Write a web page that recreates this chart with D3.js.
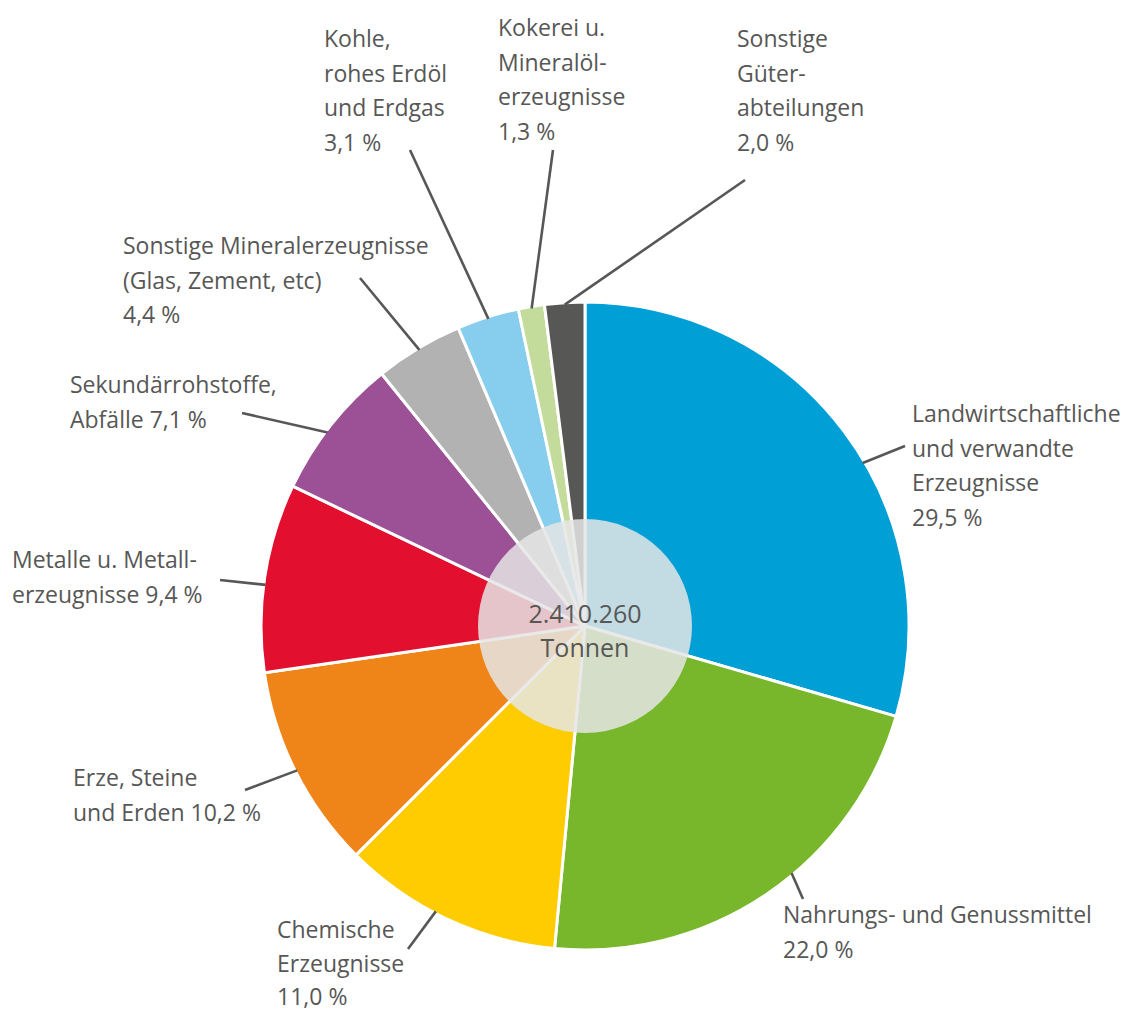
<!DOCTYPE html>
<html lang="de">
<head>
  <meta charset="UTF-8">
  <title>Güterabteilungen</title>
  <script src="https://cdn.jsdelivr.net/npm/d3@7"></script>
  <style>
    body { margin: 0; background: #fff; }
    .lbl { font-family: "Open Sans", sans-serif; font-size: 23px; fill: #575756; }
    .leader { stroke: #575756; stroke-width: 2.6px; fill: none; }
    .centerText { font-family: "Open Sans", sans-serif; font-size: 25px; fill: #575756; }
  </style>
</head>
<body>
<div id="chart"></div>
<script>
// Daten
var categories = ['Landwirtschaftliche und verwandte Erzeugnisse', 'Nahrungs- und Genussmittel',
  'Chemische Erzeugnisse', 'Erze, Steine und Erden', 'Metalle u. Metallerzeugnisse',
  'Sekundärrohstoffe, Abfälle', 'Sonstige Mineralerzeugnisse (Glas, Zement, etc)',
  'Kohle, rohes Erdöl und Erdgas', 'Kokerei u. Mineralölerzeugnisse', 'Sonstige Güterabteilungen'];
var shares = [29.5, 22.0, 11.0, 10.2, 9.4, 7.1, 4.4, 3.1, 1.3, 2.0];
var labelLines = [
  ['Landwirtschaftliche', 'und verwandte', 'Erzeugnisse', ''],
  ['Nahrungs- und Genussmittel', ''],
  ['Chemische', 'Erzeugnisse', ''],
  ['Erze, Steine', 'und Erden'],
  ['Metalle u. Metall-', 'erzeugnisse'],
  ['Sekundärrohstoffe,', 'Abfälle'],
  ['Sonstige Mineralerzeugnisse', '(Glas, Zement, etc)', ''],
  ['Kohle,', 'rohes Erdöl', 'und Erdgas', ''],
  ['Kokerei u.', 'Mineralöl-', 'erzeugnisse', ''],
  ['Sonstige', 'Güter-', 'abteilungen', '']
];
var colors = ['#009fd6', '#78b72b', '#fecc00', '#ef8419', '#e30f2f', '#9c5096',
  '#b2b2b2', '#86cdee', '#c4dc9b', '#575756'];
var totalText = ['2.410.260', 'Tonnen'];

// Layout der Beschriftungen (Textposition, Zeilenabstand, Linienende, Winkel-Korrektur in Grad)
var labelLayout = [
  { x: 912, y: 422, lh: 34.5, ex: 905, ey: 446, da: 6.5 },
  { x: 783, y: 923, lh: 34.5, ex: 803, ey: 899, da: -5.7 },
  { x: 277, y: 938, lh: 33.5, ex: 408, ey: 949, da: 2.4 },
  { x: 73,  y: 786, lh: 34.5, ex: 245, ey: 790, da: 0 },
  { x: 12,  y: 568, lh: 34.5, ex: 220, ey: 580, da: -1.3 },
  { x: 70,  y: 393, lh: 34.5, ex: 242, ey: 413, da: -1.4 },
  { x: 123, y: 254, lh: 34.5, ex: 360, ey: 278, da: 0 },
  { x: 324, y: 47,  lh: 34.5, ex: 410, ey: 150, da: 0 },
  { x: 498, y: 36,  lh: 34.5, ex: 553, ey: 150, da: 0 },
  { x: 737, y: 47,  lh: 34.5, ex: 745, ey: 180, da: 0 }
];

var width = 1133, height = 1012;
var cx = 585, cy = 626, radius = 324, innerR = 107;

var fmt = function(v) { return d3.format('.1f')(v).replace('.', ',') + ' %'; };

var svg = d3.select('#chart')
  .append('svg')
  .attr('width', width)
  .attr('height', height);

var g = svg.append('g')
  .attr('transform', 'translate(' + cx + ',' + cy + ')');

var pie = d3.pie().sort(null).value(function(d) { return d; });
var arcs = pie(shares);

var arc = d3.arc().innerRadius(0).outerRadius(radius);

g.selectAll('.slice')
  .data(arcs)
  .enter()
  .append('path')
  .attr('class', 'slice')
  .attr('d', arc)
  .attr('fill', function(d, i) { return colors[i]; })
  .attr('stroke', '#fff')
  .attr('stroke-width', 3)
  .attr('stroke-linejoin', 'round');

// heller Kreis in der Mitte
g.append('circle')
  .attr('r', innerR)
  .attr('fill', '#e5e5e5')
  .attr('fill-opacity', 0.85);

g.selectAll('.centerText')
  .data(totalText)
  .enter()
  .append('text')
  .attr('class', 'centerText')
  .attr('text-anchor', 'middle')
  .attr('x', 0)
  .attr('y', function(d, i) { return -3 + i * 34; })
  .text(function(d) { return d; });

// Linien
svg.selectAll('.leader')
  .data(arcs)
  .enter()
  .append('line')
  .attr('class', 'leader')
  .attr('x1', function(d, i) {
    var a = (d.startAngle + d.endAngle) / 2 + labelLayout[i].da * Math.PI / 180;
    return cx + (radius - 2) * Math.sin(a);
  })
  .attr('y1', function(d, i) {
    var a = (d.startAngle + d.endAngle) / 2 + labelLayout[i].da * Math.PI / 180;
    return cy - (radius - 2) * Math.cos(a);
  })
  .attr('x2', function(d, i) { return labelLayout[i].ex; })
  .attr('y2', function(d, i) { return labelLayout[i].ey; });

// Beschriftungen
var labels = svg.selectAll('.lbl')
  .data(arcs)
  .enter()
  .append('text')
  .attr('class', 'lbl')
  .attr('x', function(d, i) { return labelLayout[i].x; })
  .attr('y', function(d, i) { return labelLayout[i].y; });

labels.each(function(d, i) {
  var lines = labelLines[i].slice();
  var last = lines.length - 1;
  lines[last] = (lines[last] ? lines[last] + ' ' : '') + fmt(shares[i]);
  d3.select(this).selectAll('tspan')
    .data(lines)
    .enter()
    .append('tspan')
    .attr('x', labelLayout[i].x)
    .attr('dy', function(t, j) { return j === 0 ? 0 : labelLayout[i].lh; })
    .text(function(t) { return t; });
});
</script>
</body>
</html>
